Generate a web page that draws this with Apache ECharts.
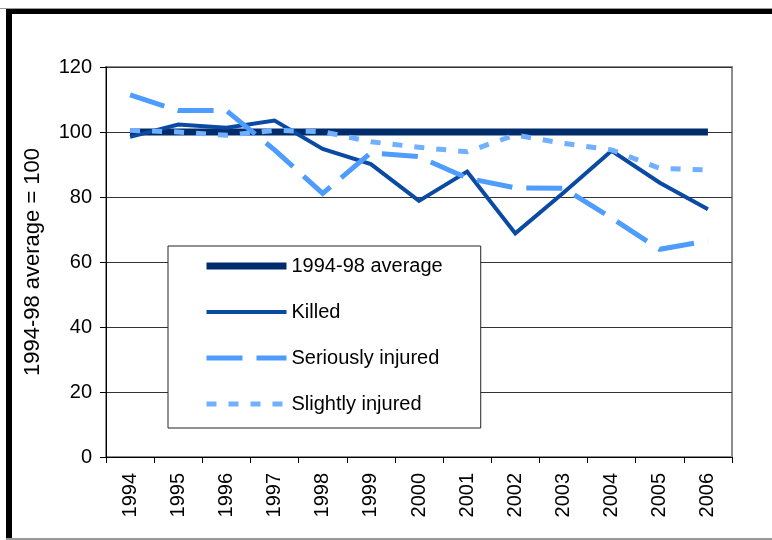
<!DOCTYPE html>
<html>
<head>
<meta charset="utf-8">
<script src="https://cdn.jsdelivr.net/npm/echarts@6/dist/echarts.min.js"></script>
<style>
  html, body { margin: 0; padding: 0; background: #fff; }
  #wrap { position: relative; width: 772px; height: 540px; overflow: hidden; }
  #chart { position: absolute; left: 0; top: 0; width: 772px; height: 540px; }
  .frame { position: absolute; pointer-events: none; }
</style>
</head>
<body>
<div id="wrap">
  <div id="chart"></div>
  <div class="frame" style="left:0;top:8px;width:772px;height:1px;background:#999;"></div>
  <div class="frame" style="left:6px;top:9px;width:766px;height:5px;background:#000;"></div>
  <div class="frame" style="left:6px;top:9px;width:6px;height:531px;background:#000;"></div>
  <div class="frame" style="left:6px;top:538px;width:766px;height:2px;background:#999;"></div>
</div>
<script>
const years = ["1994", "1995", "1996", "1997", "1998", "1999", "2000",
  "2001", "2002", "2003", "2004", "2005", "2006"];
const average = [100, 100, 100, 100, 100, 100, 100, 100, 100, 100, 100, 100, 100];
const killed = [98.5, 102.3, 101.3, 103.5, 94.8, 90.1, 78.8, 87.8, 68.8, 81.3, 94.2, 84.4, 76.2];
const seriously = [111.4, 106.6, 106.6, 94.5, 81.1, 93.6, 92.4, 85.8, 82.8, 82.7, 73.5, 63.9, 66.5];
const slightly = [100.5, 100, 99, 100.5, 100.1, 97, 95.3, 93.9, 99.1, 96.5, 94.5, 88.8, 88.3];
const yTicks = [0, 20, 40, 60, 80, 100, 120];

const font = "'Liberation Sans', Arial, sans-serif";
const chart = echarts.init(document.getElementById("chart"));

// name, data, colour, width, dash
const lines = [
  ["1994-98 average", average, "#002c6b", 7, "solid"],
  ["Killed", killed, "#0a4aa3", 4, "solid"],
  ["Seriously injured", seriously, "#4f9cff", 5, [36, 14]],
  ["Slightly injured", slightly, "#70b0ff", 5, [10, 12]],
];

chart.setOption({
  animation: false,
  grid: {
    left: 106,
    right: 40,
    top: 67,
    bottom: 83,
    show: true,
    borderColor: "#8c8c8c",
    borderWidth: 2,
  },
  legend: {
    orient: "vertical",
    left: 168,
    top: 246,
    padding: [10, 38, 14, 35],
    itemWidth: 80,
    itemHeight: 20,
    itemGap: 26,
    backgroundColor: "#fff",
    borderColor: "#222",
    borderWidth: 1,
    borderRadius: 0,
    selectedMode: false,
    textStyle: { fontFamily: font, fontSize: 20, color: "#000", lineHeight: 20 },
    data: lines.map((l) => ({
      name: l[0],
      itemStyle: { opacity: 0 },
      lineStyle: { color: l[2], width: l[3], type: l[4], cap: "butt" },
    })),
  },
  xAxis: {
    type: "category",
    data: years,
    boundaryGap: true,
    axisLine: { lineStyle: { color: "#000", width: 1 } },
    axisTick: { show: true, length: 6, alignWithLabel: false, lineStyle: { color: "#000" } },
    axisLabel: {
      rotate: 90,
      margin: 16,
      interval: 0,
      color: "#000",
      fontFamily: font,
      fontSize: 20,
    },
    splitLine: { show: false },
  },
  yAxis: {
    type: "value",
    min: yTicks[0],
    max: yTicks[yTicks.length - 1],
    interval: 20,
    name: "1994-98 average = 100",
    nameLocation: "middle",
    nameRotate: 90,
    nameGap: 62,
    nameTextStyle: { fontFamily: font, fontSize: 22, color: "#000" },
    axisLine: { show: true, lineStyle: { color: "#000", width: 1 } },
    axisTick: { show: true, length: 6, lineStyle: { color: "#000" } },
    axisLabel: { margin: 14, color: "#000", fontFamily: font, fontSize: 20 },
    splitLine: { show: true, lineStyle: { color: "#333", width: 1 } },
  },
  series: lines.map((l) => ({
    name: l[0],
    type: "line",
    data: l[1],
    symbol: "none",
    silent: true,
    itemStyle: { color: l[2] },
    lineStyle: { color: l[2], width: l[3], type: l[4], cap: "butt", join: "miter" },
  })),
});
</script>
</body>
</html>
